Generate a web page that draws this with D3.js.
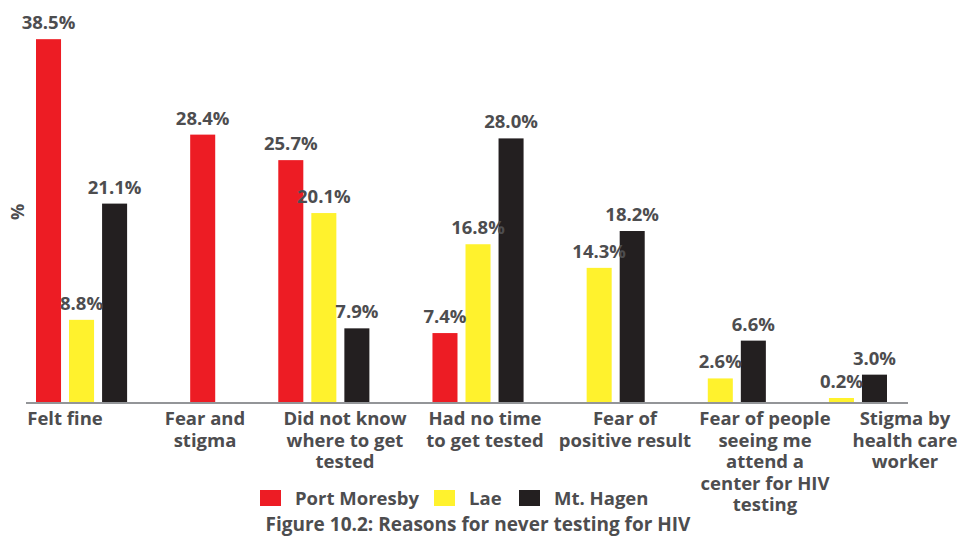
<!DOCTYPE html>
<html>
<head>
<meta charset="utf-8">
<script src="https://cdn.jsdelivr.net/npm/d3@7"></script>
<style>
  html, body { margin: 0; padding: 0; background: #fff; }
  svg { display: block; font-family: "Open Sans", "Noto Sans", sans-serif; font-weight: 700; }
</style>
</head>
<body>
<svg id="chart" width="963" height="538"></svg>
<script>
// ---- data ----
const categories = [
  "Felt fine",
  "Fear and stigma",
  "Did not know where to get tested",
  "Had no time to get tested",
  "Fear of positive result",
  "Fear of people seeing me attend a center for HIV testing",
  "Stigma by health care worker"
];
const categoryLines = [
  ["Felt fine"],
  ["Fear and", "stigma"],
  ["Did not know", "where to get", "tested"],
  ["Had no time", "to get tested"],
  ["Fear of", "positive result"],
  ["Fear of people", "seeing me", "attend a", "center for HIV", "testing"],
  ["Stigma by", "health care", "worker"]
];
const seriesNames = ["Port Moresby", "Lae", "Mt. Hagen"];
const portMoresby = [38.5, 28.4, 25.7, 7.4, null, null, null];
const lae         = [8.8, null, 20.1, 16.8, 14.3, 2.6, 0.2];
const mtHagen     = [21.1, null, 7.9, 28.0, 18.2, 6.6, 3.0];
const seriesValues = [portMoresby, lae, mtHagen];
const colors = ["#ed1c24", "#fff22d", "#231f20"];
const yAxisTitle = "%";
const figureTitle = "Figure 10.2: Reasons for never testing for HIV";

// ---- layout ----
const svg = d3.select("#chart");
const textColor = "#4d4d4f";
const baseY = 403;

// bars per category (only present values), packed in slot units
const innerGapU = 0.32, groupGapU = 2.52;
const bars = [];
let u = 0;
categories.forEach((c, ci) => {
  let first = true;
  seriesValues.forEach((vals, si) => {
    const v = vals[ci];
    if (v == null) return;
    if (!first) u += innerGapU;
    bars.push({ cat: c, ci, si, value: v, u0: u });
    u += 1;
    first = false;
  });
  if (ci < categories.length - 1) u += groupGapU;
});
const totalU = u;

const x = d3.scaleLinear().domain([0, totalU]).range([36, 887]);
const y = d3.scaleLinear().domain([0, 40]).range([baseY, 25]);
const xLab = d3.scaleBand().domain(categories).range([-5, 975]);

// bars
svg.append("g").selectAll("rect").data(bars).join("rect")
  .attr("x", d => x(d.u0))
  .attr("width", d => x(d.u0 + 1) - x(d.u0))
  .attr("y", d => Math.min(y(d.value), baseY - 5))
  .attr("height", d => baseY - Math.min(y(d.value), baseY - 5))
  .attr("fill", d => colors[d.si]);

// value labels
svg.append("g").selectAll("text").data(bars).join("text")
  .attr("x", d => x(d.u0 + 0.5))
  .attr("y", d => Math.min(y(d.value), baseY - 5) - 10)
  .attr("text-anchor", "middle")
  .attr("font-size", 18.5)
  .attr("fill", textColor)
  .text(d => d.value.toFixed(1) + "%");

// axis line
const xAxis = d3.axisBottom(x).ticks(0).tickSize(0).tickFormat("");
const axG = svg.append("g").attr("transform", `translate(0,${baseY})`).call(xAxis);
axG.select(".domain").attr("stroke", "#939598").attr("stroke-width", 2)
  .attr("d", `M26,0H908`);

// category labels
const catG = svg.append("g");
categories.forEach((c, ci) => {
  const cx = xLab(c) + xLab.bandwidth() / 2;
  const t = catG.append("text")
    .attr("x", cx)
    .attr("y", 425)
    .attr("text-anchor", "middle")
    .attr("font-size", 18.5)
    .attr("fill", textColor);
  categoryLines[ci].forEach((line, li) => {
    t.append("tspan")
      .attr("x", cx)
      .attr("dy", li === 0 ? 0 : 21.5)
      .text(line);
  });
});

// y axis title
svg.append("text")
  .attr("transform", "translate(24,212) rotate(-90)")
  .attr("text-anchor", "middle")
  .attr("font-size", 18)
  .attr("fill", textColor)
  .text(yAxisTitle);

// legend
const legendItems = [
  { name: seriesNames[0], color: colors[0], x: 260 },
  { name: seriesNames[1], color: colors[1], x: 434 },
  { name: seriesNames[2], color: colors[2], x: 519 }
];
const lg = svg.append("g");
legendItems.forEach(it => {
  lg.append("rect").attr("x", it.x).attr("y", 490).attr("width", 21).attr("height", 16).attr("fill", it.color);
  lg.append("text").attr("x", it.x + 35).attr("y", 505)
    .attr("font-size", 18.5).attr("fill", textColor).text(it.name);
});

// figure title
svg.append("text")
  .attr("x", 478).attr("y", 531)
  .attr("text-anchor", "middle")
  .attr("font-size", 19)
  .attr("fill", textColor)
  .text(figureTitle);
</script>
</body>
</html>
